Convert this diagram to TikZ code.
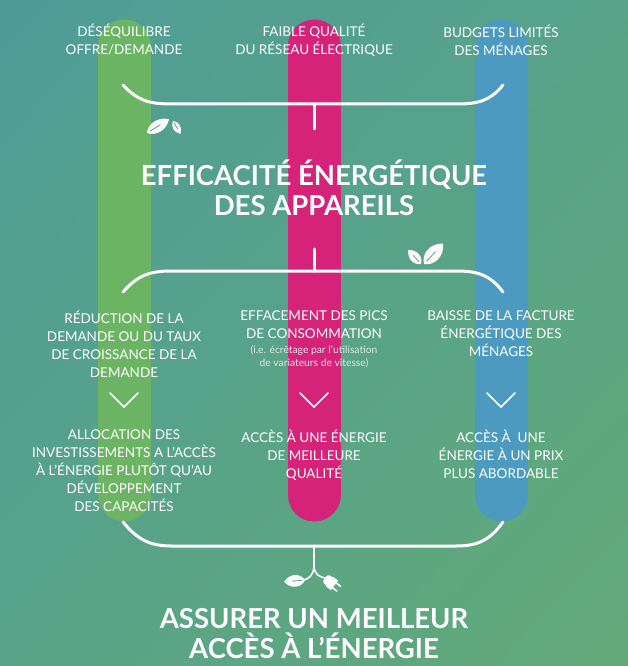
\documentclass[tikz,border=0pt]{standalone}
\usepackage{fontspec}
\setmainfont{Lato}
\usetikzlibrary{calc,shadings}
\definecolor{bgA}{HTML}{4E9C97}
\definecolor{bgM}{HTML}{58A389}
\definecolor{bgB}{HTML}{62AA78}
\definecolor{barG}{HTML}{6BB463}
\definecolor{barP}{HTML}{D5237A}
\definecolor{barB}{HTML}{4C9AC0}
\definecolor{ink}{HTML}{FFFFFF}
\definecolor{muted}{HTML}{DCE8E2}
\tikzset{
  bar/.style={line width=53pt, line cap=round},
  brace/.style={draw=ink, line width=3pt, line cap=round, line join=round},
  chev/.style={draw=ink, line width=1.6pt, line cap=round},
  wire/.style={draw=ink, line width=1.6pt, line cap=round},
  lab/.style={text=ink, align=center, font=\fontsize{13.5}{18}\selectfont},
  note/.style={text=muted, align=center, font=\fontsize{10.3}{13}\selectfont},
  head/.style={text=ink, align=center, font=\bfseries\fontsize{27.5}{30}\selectfont},
  leaf/.pic={
    \fill[ink] (0,0) .. controls (4,6) and (14,6.5) .. (20,0)
      .. controls (14,-6.5) and (4,-6) .. (0,0);
    \draw[bgM, line width=0.8pt, line cap=round] (3,0) -- (12,0);
  },
}
\begin{document}
\begin{tikzpicture}[x=1pt, y=-1pt]
  \useasboundingbox (0,0) rectangle (628,666);
  \shade[upper left=bgA, upper right=bgM, lower left=bgM, lower right=bgB]
    (0,0) rectangle (628,666);
  % columns
  \foreach \X/\col in {124/barG,314/barP,501/barB}
    \draw[bar, \col] (\X,46) -- (\X,495);
  % causes
  \node[lab] (c1) at (124,40) {DÉSÉQUILIBRE\\OFFRE/DEMANDE};
  \node[lab] (c2) at (314,40) {FAIBLE QUALITÉ\\DU RÉSEAU ÉLECTRIQUE};
  \node[lab] (c3) at (501,40) {BUDGETS LIMITÉS\\DES MÉNAGES};
  \coordinate (ta) at (123,85);
  \coordinate (tb) at (503,85);
  \coordinate (tm) at (314,104);
  \draw[brace] (ta) .. controls (138,101) and (150,104) .. (172,104) -- (456,104)
    .. controls (478,104) and (490,101) .. (tb);
  \draw[brace] (tm) -- (314,129);
  \pic[rotate=32, xscale=1.3, yscale=1.25] at (147,133) {leaf};
  \pic[rotate=-60, xscale=0.75, yscale=0.8] at (173,121) {leaf};
  % lever
  \node[head] (eff) at (314,188) {EFFICACITÉ ÉNERGÉTIQUE\\DES APPAREILS};
  \coordinate (ma) at (123,292);
  \coordinate (mb) at (503,292);
  \coordinate (mm) at (314,271);
  \draw[brace] (314,249) -- (mm);
  \draw[brace] (ma) .. controls (138,275) and (150,271) .. (172,271) -- (456,271)
    .. controls (478,271) and (490,275) .. (mb);
  \pic[rotate=132, xscale=0.95, yscale=1.05] at (421,264) {leaf};
  \pic[rotate=47, xscale=1.4, yscale=1.5] at (424,264) {leaf};
  % effects
  \node[lab, anchor=north] (e1) at (124,307)
    {RÉDUCTION DE LA\\DEMANDE OU DU TAUX\\DE CROISSANCE DE LA\\DEMANDE};
  \node[lab, anchor=north] (e2) at (314,307)
    {EFFACEMENT DES PICS\\DE CONSOMMATION};
  \node[note, anchor=north] (n2) at (e2.south)
    {(i.e. écrêtage par l’utilisation\\de variateurs de vitesse)};
  \node[lab, anchor=north] (e3) at (501,307)
    {BAISSE DE LA FACTURE\\ÉNERGÉTIQUE DES\\MÉNAGES};
  \foreach \X in {124,314,501}
    \draw[chev] (\X-14,393) -- (\X,407) -- (\X+14,393);
  % results
  \node[lab, anchor=north] (r1) at (124,426)
    {ALLOCATION DES\\INVESTISSEMENTS A L’ACCÈS\\À L’ÉNERGIE PLUTÔT QU’AU\\DÉVELOPPEMENT\\DES CAPACITÉS};
  \node[lab, anchor=north] (r2) at (314,426)
    {ACCÈS À UNE ÉNERGIE\\DE MEILLEURE\\QUALITÉ};
  \node[lab, anchor=north] (r3) at (501,426)
    {ACCÈS À\ \ UNE\\ÉNERGIE À UN PRIX\\PLUS ABORDABLE};
  \coordinate (ba) at (123,522);
  \coordinate (bb) at (503,522);
  \coordinate (bm) at (314,546);
  \draw[brace] (ba) .. controls (138,540) and (150,546) .. (172,546) -- (456,546)
    .. controls (478,546) and (490,540) .. (bb);
  \draw[wire] (bm) -- (314,567) coordinate (fork);
  \draw[wire] (fork) .. controls (313,575) and (310,578) .. (304,580);
  \draw[wire] (fork) .. controls (315,575) and (320,577) .. (325,578);
  \pic[rotate=185, xscale=1.05, yscale=1.25] at (305,580) {leaf};
  \begin{scope}[shift={(325,578)}, rotate=-38, scale=1.2]
    \fill[ink, rounded corners=2pt] (0,-4) -- (7,-4.5) -- (7,4.5) -- (0,4) -- cycle;
    \fill[ink] (5,-5) rectangle (10,5);
    \draw[wire, line width=1.6pt] (10,-2.5) -- (14.5,-2.5) (10,2.5) -- (14.5,2.5);
  \end{scope}
  % goal
  \node[head] (goal) at (314,634) {ASSURER UN MEILLEUR\\ACCÈS À L’ÉNERGIE};
\end{tikzpicture}
\end{document}
